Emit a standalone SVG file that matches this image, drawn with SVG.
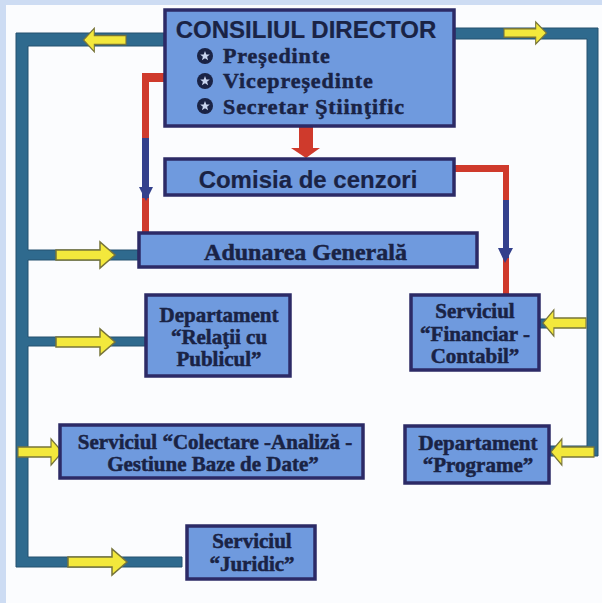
<svg xmlns="http://www.w3.org/2000/svg" width="602" height="603" viewBox="0 0 602 603">
<style>
.n{fill:#6f9ade;stroke:#2c2a66;stroke-width:3.5}
.t{fill:#1a2345;font-family:"Liberation Serif",serif;font-weight:bold;font-size:21px;text-anchor:middle;stroke:#1a2345;stroke-width:.5}
.s{font-family:"Liberation Sans",sans-serif;font-size:24px;stroke-width:.2}
.l{text-anchor:start;font-size:22px;letter-spacing:.9px}
.tr{fill:#2f6a8e;stroke:#24506f;stroke-width:1}
.y{fill:#f3e83c;stroke:#77743a;stroke-width:1.5}
.r{fill:#cf3a2c}
.b{fill:#33408c}
.dot{fill:#1a2345}
.star{fill:#c8d4ee}
</style>
<defs>
<path id="ar" class="y" d="M0-5H44V-13L59 0 44 13V5H0Z"/>
<g id="bul"><circle r="8" class="dot"/><path class="star" d="M0-5 1.3-1.6 4.8-1.6 2.1.7 3.1 4.2 0 2.2 -3.1 4.2 -2.1.7 -4.8-1.6 -1.3-1.6Z"/></g>
</defs>
<rect width="602" height="603" fill="#fbfcfe"/>
<path d="M0 0H602V5H6V603H0Z" fill="#cddcf3"/>
<g id="connectors">
<path class="tr" d="M16 33H164V46H28V250H138V260H28V337H145V346H28V557H182V567H16Z"/>
<path class="tr" d="M455 28H598V456H550V446H587V39H455Z"/>
<rect class="tr" x="540" y="319" width="8" height="9"/>
<path class="r" d="M164 73H142V232H149V82H164Z"/>
<rect class="b" x="142" y="138" width="7" height="60"/>
<path class="b" d="M139 187H153L146 201Z"/>
<path class="r" d="M455 165H509V294H503V172H455Z"/>
<rect class="b" x="503" y="200" width="6" height="58"/>
<path class="b" d="M498 248H513L505 263Z"/>
<path class="r" d="M299 127H313V148H320L306 158 291 148H299Z"/>
<use href="#ar" transform="translate(126 40) rotate(180) scale(.72 .9)"/>
<use href="#ar" transform="translate(504 33) scale(.72 .85)"/>
<use href="#ar" transform="translate(56 255)"/>
<use href="#ar" transform="translate(56 342)"/>
<use href="#ar" transform="translate(18 452) scale(.75 1)"/>
<use href="#ar" transform="translate(68 562)"/>
<use href="#ar" transform="translate(586 323) rotate(180) scale(.73 1)"/>
<use href="#ar" transform="translate(594 452) rotate(180) scale(.73 1)"/>
</g>
<g id="consiliu"><rect class="n" x="165" y="10" width="289" height="116"/>
<text class="t s" x="306" y="38">CONSILIUL DIRECTOR</text>
<use href="#bul" x="205" y="56"/><text class="t l" x="223" y="63">Președinte</text>
<use href="#bul" x="205" y="81"/><text class="t l" x="223" y="88">Vicepreședinte</text>
<use href="#bul" x="205" y="106"/><text class="t l" x="223" y="114">Secretar Ştiinţific</text></g>
<g id="comisia"><rect class="n" x="165" y="159" width="289" height="36"/><text class="t s" x="308" y="188">Comisia de cenzori</text></g>
<g id="adunarea"><rect class="n" x="139" y="233" width="338" height="34"/><text class="t" x="305.500" y="260" style="font-size:24px">Adunarea Generală</text></g>
<g id="relatii"><rect class="n" x="146" y="295" width="144" height="81"/><text class="t" x="219" y="322">Departament</text><text class="t" x="219" y="344">“Relaţii cu</text><text class="t" x="219" y="366">Publicul”</text></g>
<g id="colectare"><rect class="n" x="60" y="425" width="303" height="53"/><text class="t" x="215" y="449">Serviciul “Colectare -Analiză -</text><text class="t" x="213" y="471">Gestiune Baze de Date”</text></g>
<g id="juridic"><rect class="n" x="187" y="526" width="128" height="53"/><text class="t" x="252" y="548">Serviciul</text><text class="t" x="252" y="571">“Juridic”</text></g>
<g id="financiar"><rect class="n" x="411" y="295" width="128" height="75"/><text class="t" x="475" y="318">Serviciul</text><text class="t" x="475" y="341">“Financiar -</text><text class="t" x="475" y="363">Contabil”</text></g>
<g id="programe"><rect class="n" x="405" y="426" width="144" height="57"/><text class="t" x="478" y="450">Departament</text><text class="t" x="478" y="472">“Programe”</text></g>
</svg>
